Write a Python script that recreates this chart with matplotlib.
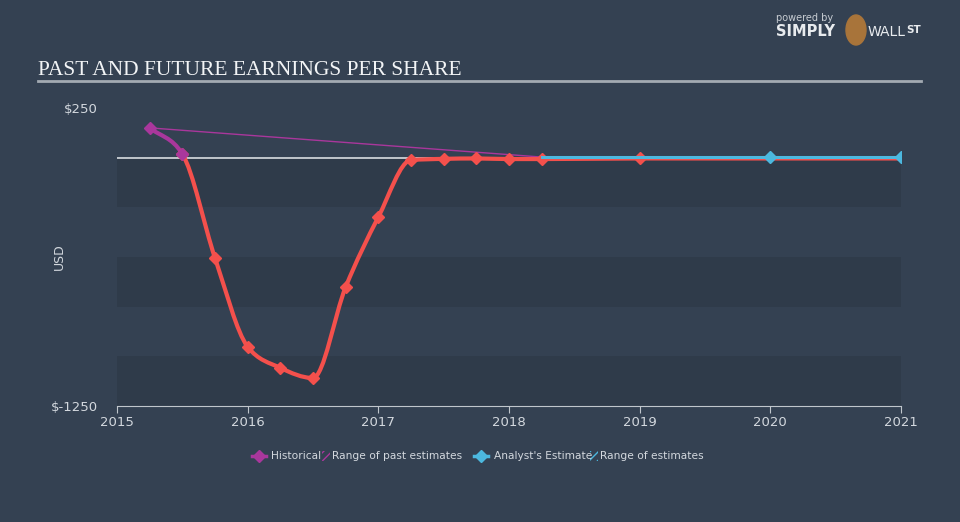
import numpy as np
import matplotlib
matplotlib.use("Agg")
from matplotlib import pyplot as plt
from matplotlib.path import Path
from matplotlib.patches import PathPatch, Rectangle, Ellipse
from matplotlib.lines import Line2D

# data (EPS in USD)
hist_x = [2015.25, 2015.5]
hist_y = [150, 19]
eps_x = [2015.25, 2015.5, 2015.75, 2016.0, 2016.25, 2016.5, 2016.75, 2017.0,
         2017.25, 2017.5, 2017.75, 2018.0, 2018.25, 2019.0, 2020.0, 2021.0]
eps_y = [150, 19, -505, -952, -1058, -1109, -651, -299,
         -12, -6, -4, -7, -7, -4, -4, -4]
est_x = [2018.25, 2019.0, 2020.0, 2021.0]
est_y = [3, 3, 3, 3]
past_range_x = [2015.25, 2018.25]
past_range_y = [150, 3]

bg = "#344152"
band = "#2f3b4a"
red = "#f4504c"
purple = "#a9379c"
blue = "#4cb8df"
txt = "#d3d8de"


def monotone_path(xs, ys):
    # cubic bezier segments like d3 curveMonotoneX
    x = np.asarray(xs, float)
    y = np.asarray(ys, float)
    n = len(x)
    h = np.diff(x)
    s = np.diff(y) / h
    m = np.zeros(n)
    m[0] = s[0]
    m[-1] = s[-1]
    for i in range(1, n - 1):
        if s[i - 1] * s[i] <= 0:
            m[i] = 0
        else:
            p = (s[i - 1] * h[i] + s[i] * h[i - 1]) / (h[i - 1] + h[i])
            m[i] = (np.sign(s[i - 1]) + np.sign(s[i])) * min(abs(s[i - 1]), abs(s[i]), 0.5 * abs(p))
    segs = []
    for i in range(n - 1):
        d = h[i] / 3
        segs.append([(x[i], y[i]), (x[i] + d, y[i] + m[i] * d),
                     (x[i + 1] - d, y[i + 1] - m[i + 1] * d), (x[i + 1], y[i + 1])])
    return segs


def seg_path(segs):
    verts = [segs[0][0]]
    codes = [Path.MOVETO]
    for sg in segs:
        verts += sg[1:]
        codes += [Path.CURVE4] * 3
    return Path(verts, codes)


fig = plt.figure(figsize=(9.6, 5.22), dpi=100, facecolor=bg)
ax = fig.add_axes([117 / 960, 1 - 406 / 522, 784 / 960, 298 / 522], facecolor=bg)
ax.set_xlim(2015, 2021)
ax.set_ylim(-1250, 250)

for i, lo in enumerate(range(0, -1250, -250)):
    if i % 2 == 0:
        ax.add_patch(Rectangle((2015, lo - 250), 6, 250, facecolor=band, edgecolor="none", zorder=0))
ax.axhline(0, color="#e8ebee", lw=1.1, zorder=1)

# range of past estimates
ax.plot(past_range_x, past_range_y, color=purple, lw=1, zorder=2)

segs = monotone_path(eps_x, eps_y)
ax.add_patch(PathPatch(seg_path(segs[1:]), facecolor="none", edgecolor=red, lw=3, zorder=3,
                       capstyle="round", joinstyle="round"))
ax.add_patch(PathPatch(seg_path(segs[:1]), facecolor="none", edgecolor=purple, lw=3, zorder=3,
                       capstyle="round"))
ax.plot(eps_x[1:14], eps_y[1:14], ls="none", marker="D", ms=6, color=red, zorder=4)
ax.plot(hist_x, hist_y, ls="none", marker="D", ms=6, color=purple, zorder=5)

ax.plot(est_x, est_y, color=blue, lw=2.2, zorder=4)
ax.plot(est_x[2:], est_y[2:], ls="none", marker="D", ms=6, color=blue, zorder=5)

for side in ["left", "right", "top"]:
    ax.spines[side].set_visible(False)
ax.spines["bottom"].set_color("#c0c6cc")
ax.set_xticks(range(2015, 2022))
ax.set_xticklabels([str(v) for v in range(2015, 2022)])
ax.set_yticks([250, -1250])
ax.set_yticklabels(["$250", "$-1250"])
ax.tick_params(axis="x", colors="#c0c6cc", labelcolor=txt, labelsize=9.5, length=5, pad=2)
ax.tick_params(axis="y", length=0, labelcolor=txt, labelsize=9.5, pad=14)
ax.set_ylabel("USD", color=txt, fontsize=9)
ax.yaxis.set_label_coords(-51 / 784, 0.5)

# title
fig.text(38 / 960, 1 - 75 / 522, "PAST AND FUTURE EARNINGS PER SHARE", family="Liberation Serif",
         fontsize=15.5, color="#f2f4f6", va="baseline")
fig.add_artist(Line2D([38 / 960, 921 / 960], [1 - 81 / 522] * 2, color="#a3aab2", lw=2))

# logo
fig.text(776 / 960, 1 - 18 / 522, "powered by", fontsize=7, color="#c8cdd3", va="center")
fig.text(776 / 960, 1 - 32 / 522, "SIMPLY", fontsize=10.5, weight="bold", color="#e8ebee", va="center")
fig.add_artist(Ellipse((856 / 960, 1 - 30 / 522), 20 / 960, 30 / 522,
                       color="#a8743a", transform=fig.transFigure))
fig.text(868 / 960, 1 - 32 / 522, "WALL", fontsize=10, color="#e8ebee", va="center")
fig.text(906 / 960, 1 - 30 / 522, "ST", fontsize=7.5, weight="bold", color="#e8ebee", va="center")

# legend
ly = 1 - 456 / 522
fig.add_artist(Line2D([252 / 960, 266 / 960], [ly, ly], color=purple, lw=2.5, transform=fig.transFigure))
fig.add_artist(Line2D([259 / 960], [ly], color=purple, marker="D", ms=6, transform=fig.transFigure))
fig.text(271 / 960, ly, "Historical", fontsize=7.7, color=txt, va="center")
fig.add_artist(Rectangle((322 / 960, ly - 5 / 522), 8 / 960, 10 / 522, facecolor="none",
                         edgecolor=purple, hatch="////", lw=0, transform=fig.transFigure))
fig.text(332 / 960, ly, "Range of past estimates", fontsize=7.7, color=txt, va="center")
fig.add_artist(Line2D([474 / 960, 488 / 960], [ly, ly], color=blue, lw=2.5, transform=fig.transFigure))
fig.add_artist(Line2D([481 / 960], [ly], color=blue, marker="D", ms=6, transform=fig.transFigure))
fig.text(494 / 960, ly, "Analyst's Estimate", fontsize=7.7, color=txt, va="center")
fig.add_artist(Rectangle((590 / 960, ly - 5 / 522), 8 / 960, 10 / 522, facecolor="none",
                         edgecolor=blue, hatch="////", lw=0, transform=fig.transFigure))
fig.text(600 / 960, ly, "Range of estimates", fontsize=7.7, color=txt, va="center")

fig.savefig("out.png", dpi=100, facecolor=bg)
